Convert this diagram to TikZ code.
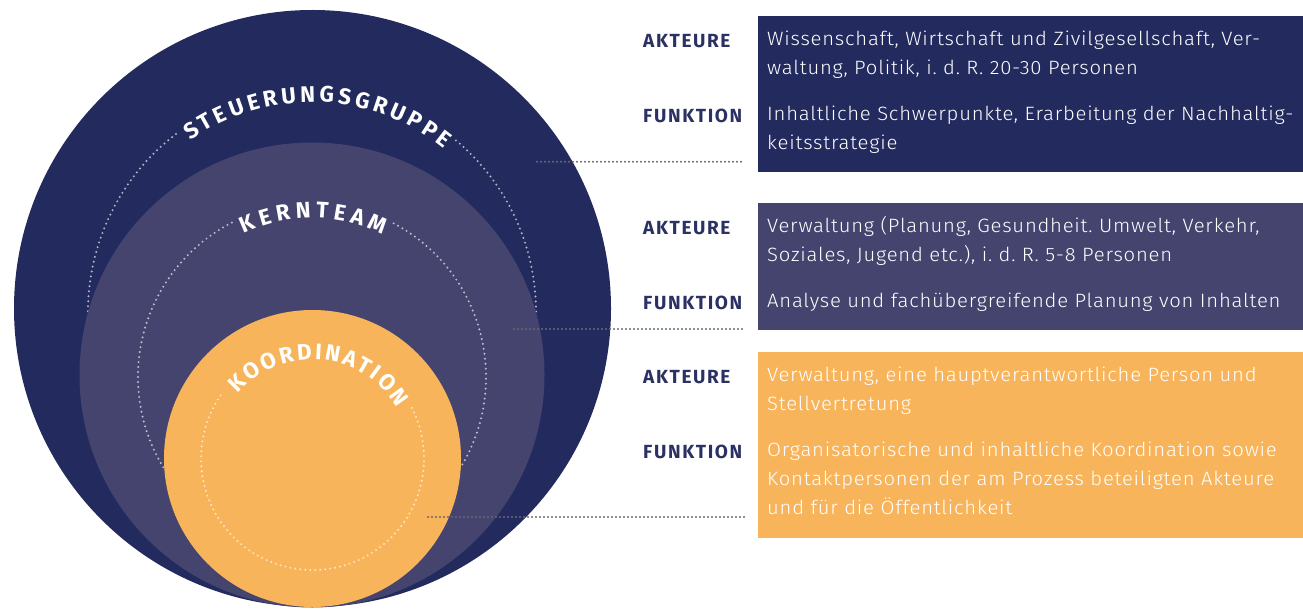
\documentclass[tikz,border=0pt]{standalone}
\usepackage{fontspec}
\setmainfont{Fira Sans}
\newfontfamily\bodyfont{Fira Sans Light}[FakeStretch=1.05,LetterSpace=4]
\newfontfamily\labelfont{Fira Sans}[LetterSpace=8.5]
\usetikzlibrary{decorations.text}
\definecolor{cnavy}{HTML}{232B5E}
\definecolor{cviolet}{HTML}{45446F}
\definecolor{corange}{HTML}{F8B45A}
\definecolor{clabel}{HTML}{2B3163}
\definecolor{cleader}{HTML}{68686F}
\newcommand{\arcfont}{\fontsize{22.5}{22.5}\selectfont\bfseries}
\begin{document}
\begin{tikzpicture}[x=1pt,y=1pt,
  dotcircle/.style={draw=white, draw opacity=0.65, line width=2.2pt, line cap=round, dash pattern=on 0pt off 5pt},
  leader/.style={draw=cleader, line width=2.2pt, line cap=round, dash pattern=on 0pt off 4pt},
  infobox/.style={inner sep=0pt, anchor=north west, minimum width=545pt},
  rowlabel/.style={anchor=base west, inner sep=0pt, text=clabel, font=\labelfont\fontsize{19}{19}\selectfont\bfseries},
  bodyline/.style={anchor=base west, inner sep=0pt, text=white, font=\bodyfont\fontsize{19.3}{19.3}\selectfont\frenchspacing},
]
\useasboundingbox (0,0) rectangle (1303,608);
\coordinate (c1) at (312.5,299.5);
\coordinate (cd1) at (312,296);
\coordinate (c2) at (312,233);
\coordinate (cd2) at (312,231);
\coordinate (c3) at (312.5,149.5);

% outer circle
\fill[cnavy] (c1) circle[radius=298.5];
\draw[dotcircle] (cd1) ++(50:224) arc[start angle=50, end angle=-233, radius=224];
\path[decorate, decoration={text along path, text={|\arcfont|STEUERUNGSGRUPPE}, text align={fit to path}, text color=white}]
  (cd1) ++(125.5:210) arc[start angle=125.5, end angle=51, radius=210];

% middle circle
\fill[cviolet] (c2) circle[radius=232.5];
\draw[dotcircle] (cd2) ++(62:174) arc[start angle=62, end angle=-243, radius=174];
\path[decorate, decoration={text along path, text={|\arcfont|KERNTEAM}, text align={fit to path}, text color=white}]
  (cd2) ++(115.5:159) arc[start angle=115.5, end angle=63.5, radius=159];

% inner circle
\fill[corange] (c3) circle[radius=148.5];
\draw[dotcircle] (c3) ++(27:111.5) arc[start angle=27, end angle=-216, radius=111.5];
\path[decorate, decoration={text along path, text={|\arcfont|KOORDINATION}, text align={fit to path}, text color=white}]
  (c3) ++(139:99) arc[start angle=139, end angle=31, radius=99];

% boxes
\node[infobox, fill=cnavy, minimum height=156pt] (box1) at (758,{608-16}) {};
\node[infobox, fill=cviolet, minimum height=127pt] (box2) at (758,{608-203}) {};
\node[infobox, fill=corange, minimum height=186pt] (box3) at (758,{608-352}) {};

% leaders
\coordinate (l1a) at (537,{608-161.7});
\coordinate (l1b) at (744,{608-161.7});
\coordinate (l2a) at (514,{608-329});
\coordinate (l2b) at (744,{608-329});
\coordinate (l3a) at (428,{608-517});
\coordinate (l3b) at (744,{608-517});
\draw[leader] (l1a) -- (l1b);
\draw[leader] (l2a) -- (l2b);
\draw[leader] (l3a) -- (l3b);

% box 1 texts
\node[rowlabel] (a1) at (643,{608-48}) {AKTEURE};
\node[bodyline] (a1x) at (767,{608-46}) {Wissenschaft, Wirtschaft und Zivilgesellschaft, Ver-};
\node[bodyline] (a1y) at (767,{608-75}) {waltung, Politik, i. d. R. 20-30 Personen};
\node[rowlabel] (f1) at (643,{608-122.5}) {FUNKTION};
\node[bodyline] (f1x) at (767,{608-120.5}) {Inhaltliche Schwerpunkte, Erarbeitung der Nachhaltig-};
\node[bodyline] (f1y) at (767,{608-149.5}) {keitsstrategie};

% box 2 texts
\node[rowlabel] (a2) at (643,{608-234.5}) {AKTEURE};
\node[bodyline] (a2x) at (767,{608-232.5}) {Verwaltung (Planung, Gesundheit. Umwelt, Verkehr,};
\node[bodyline] (a2y) at (767,{608-261.5}) {Soziales, Jugend etc.), i. d. R. 5-8 Personen};
\node[rowlabel] (f2) at (643,{608-309.5}) {FUNKTION};
\node[bodyline] (f2x) at (767,{608-307.5}) {Analyse und fachübergreifende Planung von Inhalten};

% box 3 texts
\node[rowlabel] (a3) at (643,{608-383.5}) {AKTEURE};
\node[bodyline] (a3x) at (767,{608-381.5}) {Verwaltung, eine hauptverantwortliche Person und};
\node[bodyline] (a3y) at (767,{608-410.5}) {Stellvertretung};
\node[rowlabel] (f3) at (643,{608-458.5}) {FUNKTION};
\node[bodyline] (f3x) at (767,{608-456.5}) {Organisatorische und inhaltliche Koordination sowie};
\node[bodyline] (f3y) at (767,{608-485.5}) {Kontaktpersonen der am Prozess beteiligten Akteure};
\node[bodyline] (f3z) at (767,{608-514.5}) {und für die Öffentlichkeit};
\end{tikzpicture}
\end{document}
